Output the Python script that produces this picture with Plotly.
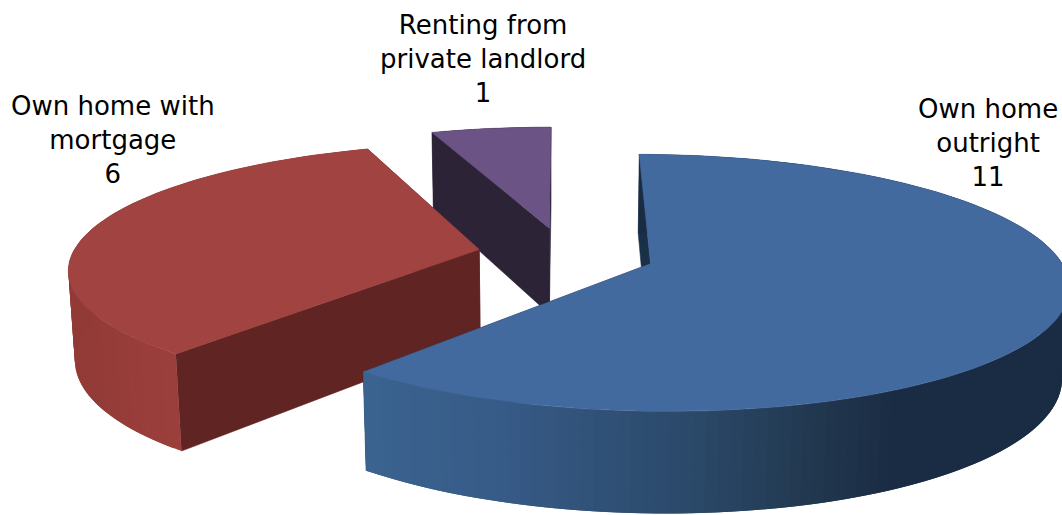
import math
import plotly.graph_objects as go

# Household tenure counts
categories = ["Own home<br>outright", "Own home with<br>mortgage", "Renting from<br>private landlord"]
values = [11, 6, 1]

# Styling per slice
top_colors = ["#436A9E", "#A04341", "#6B5485"]
cut_colors = ["#1A2F48", "#602423", "#2C2337"]
rim_stops = [
    [(0, "#1A2C43"), (151, "#1A2C43"), (162, "#22384F"), (176, "#2A4868"), (200, "#375B87"), (221, "#3B6491")],
    [(220, "#9C3F3C"), (240, "#933B37"), (290, "#913A37"), (341, "#A04341")],
    [(340, "#2C2337"), (361, "#2C2337")],
]
explode = [0.22, 0.212, 0.22]
label_x = [988, 113, 483]
label_y = [143, 140, 59]

# Camera and pie geometry, in canvas pixels and pie radii
VANISH_X, HORIZON_Y, PLANE_Y = 551, -583, 264
RADIUS_PX = 416
PIE_RADIUS = 0.99
DEPTH_RATE = 0.15
NADIR_Y, THICKNESS = 6860, 0.0137
CENTER = (0.033, 0.078)
FIRST_ANGLE = 0.25
ARC_STEP = 1.5


def project(px, py, lower=False):
    """Map a point on the pie plane to canvas pixels, optionally on the underside."""
    w = 1 + DEPTH_RATE * py
    x = VANISH_X + RADIUS_PX * px / w
    y = HORIZON_Y + (PLANE_Y - HORIZON_Y) / w
    if lower:
        x = (w * x + THICKNESS * VANISH_X) / (w + THICKNESS)
        y = (w * y + THICKNESS * NADIR_Y) / (w + THICKNESS)
    return x, y


def rim_point(center, deg):
    a = math.radians(deg + FIRST_ANGLE)
    return center[0] + PIE_RADIUS * math.sin(a), center[1] + PIE_RADIUS * math.cos(a)


def hex_mix(c1, c2, t):
    a = [int(c1[i:i + 2], 16) for i in (1, 3, 5)]
    b = [int(c2[i:i + 2], 16) for i in (1, 3, 5)]
    return "rgb({},{},{})".format(*[round(p + (q - p) * t) for p, q in zip(a, b)])


def rim_color(stops, deg):
    for (d0, c0), (d1, c1) in zip(stops, stops[1:]):
        if d0 <= deg <= d1:
            return hex_mix(c0, c1, (deg - d0) / max(d1 - d0, 1e-9))
    return hex_mix(stops[-1][1], stops[-1][1], 0)


def polygon(points, color, edge=0.6):
    xs, ys = zip(*points)
    return go.Scatter(
        x=list(xs) + [xs[0]], y=list(ys) + [ys[0]], mode="lines", fill="toself",
        fillcolor=color, line=dict(color=color, width=edge),
        hoverinfo="skip", showlegend=False,
    )


def arc(start, end):
    n = max(2, int(math.ceil((end - start) / ARC_STEP)))
    return [start + (end - start) * i / n for i in range(n + 1)]


def slice_traces(start, end, offset, tops, cuts, stops):
    mid = math.radians((start + end) / 2 + FIRST_ANGLE)
    c = (CENTER[0] + offset * math.sin(mid), CENTER[1] + offset * math.cos(mid))
    degs = arc(start, end)
    out = []
    # Flat cut faces along both radial edges
    for edge in (start, end):
        rim = rim_point(c, edge)
        out.append(polygon([project(*c), project(*rim), project(*rim, lower=True),
                            project(*c, lower=True)], cuts))
    # Outer wall in narrow shaded strips; each strip runs under the next so no seams show
    for k in range(len(degs) - 1):
        d0, d1 = degs[k], degs[min(k + 2, len(degs) - 1)]
        band = arc(d0, d1)
        outer = [project(*rim_point(c, d)) for d in band]
        inner = [project(*rim_point(c, d), lower=True) for d in reversed(band)]
        out.append(polygon(outer + inner, rim_color(stops, (degs[k] + degs[k + 1]) / 2), edge=0))
    # Top surface
    out.append(polygon([project(*c)] + [project(*rim_point(c, d)) for d in degs], tops))
    return out


fig = go.Figure()
total = sum(values)
spans, running = [], 0.0
for v in values:
    spans.append((running, running + 360 * v / total))
    running += 360 * v / total

# Far slices first so the nearer ones overlap them
for i in (2, 1, 0):
    fig.add_traces(slice_traces(*spans[i], explode[i], top_colors[i], cut_colors[i], rim_stops[i]))

for cat, val, x, y in zip(categories, values, label_x, label_y):
    fig.add_annotation(
        x=x, y=y, xref="x", yref="y", text=f"{cat}<br>{val}", showarrow=False,
        xanchor="center", yanchor="middle", align="center",
        font=dict(family="DejaVu Sans", size=26, color="#000000"),
    )

fig.update_layout(
    width=1062, height=515, margin=dict(l=0, r=0, t=0, b=0),
    paper_bgcolor="white", plot_bgcolor="white", showlegend=False,
    xaxis=dict(range=[0, 1062], visible=False, fixedrange=True),
    yaxis=dict(range=[515, 0], visible=False, fixedrange=True),
)
fig.write_html("out.html", config={"displayModeBar": False})
